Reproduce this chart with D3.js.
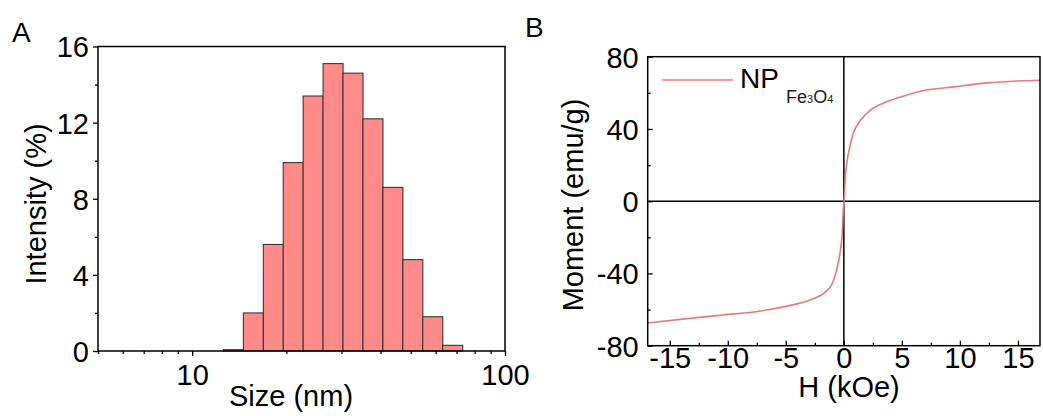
<!DOCTYPE html>
<html>
<head>
<meta charset="utf-8">
<script src="https://cdn.jsdelivr.net/npm/d3@7"></script>
<style>
  body { margin: 0; background: #fff; }
  svg { display: block; font-family: "Liberation Sans", Arial, sans-serif; }
  .domain { display: none; }
</style>
</head>
<body>
<div id="chart"></div>
<script>
// panel A: DLS size distribution
var sizes = [13.54, 15.69, 18.17, 21.04, 24.36, 28.21, 32.67, 37.84, 43.82, 50.75, 58.77, 68.06];
var intensity = [0.07, 2.0, 5.6, 9.9, 13.4, 15.1, 14.6, 12.2, 8.6, 4.8, 1.8, 0.3];
var sizeTicks = [10, 100];
var sizeMinor = [5, 6, 7, 8, 9, 20, 30, 40, 50, 60, 70, 80, 90];
var intTicks = [0, 4, 8, 12, 16];
var intMinor = [2, 6, 10, 14];

// panel B: M-H curve
var field = [-16.9, -13.5, -10.6, -7.75, -4.87, -3.73, -2.58, -1.57, -1.0, -0.63, -0.34, -0.14, -0.06, 0.02, 0.15, 0.29, 0.58, 0.86, 1.44, 2.3, 3.44, 4.88, 6.6, 9.47, 12.3, 16.9];
var moment = [-67.4, -65.0, -63.1, -61.3, -58.1, -56.3, -53.9, -50.2, -45.6, -38.2, -29.0, -17.9, -6.0, 0.5, 15.3, 22.7, 31.9, 38.4, 44.8, 50.4, 54.4, 57.7, 60.9, 63.3, 65.5, 67.0];
var hTicks = [-15, -10, -5, 0, 5, 10, 15];
var hMinor = [-12.5, -7.5, -2.5, 2.5, 7.5, 12.5];
var mTicks = [-80, -40, 0, 40, 80];
var mMinor = [-60, -20, 20, 60];

var FS = 29;
var barFill = "#fe8a8a",
    curveColor = "#e47a7a";

var svg = d3.select("#chart").append("svg")
    .attr("width", 1043)
    .attr("height", 416);

function label(text, x, y, size, rotate, anchor) {
    return svg.append("text")
        .attr("transform", "translate(" + x + "," + y + ")" + (rotate ? " rotate(-90)" : ""))
        .attr("text-anchor", anchor || "middle")
        .style("font-size", size + "px")
        .text(text);
}

function frame(x0, x1, y0, y1) {
    svg.append("rect")
        .attr("x", x0).attr("y", y1)
        .attr("width", x1 - x0).attr("height", y0 - y1)
        .attr("fill", "none")
        .attr("stroke", "#000")
        .attr("stroke-width", 1.5);
}

//---------------- panel A ----------------
var xA = d3.scaleLog().domain([5, 100]).range([98, 505]);
var yA = d3.scaleLinear().domain([0, 16]).range([351, 46.5]);

var ratio = sizes[1] / sizes[0];

svg.append("g").selectAll("rect")
    .data(sizes)
    .enter()
    .append("rect")
    .attr("x", function (d) { return xA(d / Math.sqrt(ratio)); })
    .attr("width", function (d) { return xA(d * Math.sqrt(ratio)) - xA(d / Math.sqrt(ratio)); })
    .attr("y", function (d, i) { return yA(intensity[i]); })
    .attr("height", function (d, i) { return yA(0) - yA(intensity[i]); })
    .attr("fill", barFill)
    .attr("stroke", "#2a2a2a")
    .attr("stroke-width", 1);

// x axis (outward ticks)
var gxA = svg.append("g")
    .attr("transform", "translate(0," + yA(0) + ")")
    .call(d3.axisBottom(xA).tickValues(sizeTicks).tickSize(5).tickFormat(d3.format("d")));
svg.append("g")
    .attr("transform", "translate(0," + yA(0) + ")")
    .call(d3.axisBottom(xA).tickValues(sizeMinor).tickSize(3).tickFormat(""));
gxA.selectAll("text")
    .attr("y", 34).attr("dy", null)
    .style("font-size", FS + "px");

// y axis (outward ticks)
var gyA = svg.append("g")
    .attr("transform", "translate(" + xA(5) + ",0)")
    .call(d3.axisLeft(yA).tickValues(intTicks).tickSize(5));
svg.append("g")
    .attr("transform", "translate(" + xA(5) + ",0)")
    .call(d3.axisLeft(yA).tickValues(intMinor).tickSize(3).tickFormat(""));
gyA.selectAll("text")
    .attr("x", -9).attr("dy", "0.36em")
    .style("font-size", FS + "px");

svg.selectAll(".tick line").attr("stroke", "#000").attr("stroke-width", 1.3);
frame(xA(5), xA(100), yA(0), yA(16));

label("Size (nm)", 291, 406, FS);
label("Intensity (%)", 46, 204, FS, true);
label("A", 12, 42, 28, false, "start");

//---------------- panel B ----------------
var xB = d3.scaleLinear().domain([-16.9, 16.9]).range([647.7, 1040]);
var yB = d3.scaleLinear().domain([-80, 80]).range([345.7, 56.7]);

// zero lines
svg.append("line")
    .attr("x1", xB(0)).attr("x2", xB(0))
    .attr("y1", yB(80)).attr("y2", yB(-80))
    .attr("stroke", "#000").attr("stroke-width", 1.5);
svg.append("line")
    .attr("x1", xB(-16.9)).attr("x2", xB(16.9))
    .attr("y1", yB(0)).attr("y2", yB(0))
    .attr("stroke", "#000").attr("stroke-width", 1.5);

var line = d3.line()
    .x(function (d, i) { return xB(d); })
    .y(function (d, i) { return yB(moment[i]); })
    .curve(d3.curveMonotoneX);

svg.append("path")
    .datum(field)
    .attr("d", line)
    .attr("fill", "none")
    .attr("stroke", curveColor)
    .attr("stroke-width", 1.6);

// x axis (inward ticks)
var gxB = svg.append("g")
    .attr("transform", "translate(0," + yB(-80) + ")")
    .call(d3.axisBottom(xB).tickValues(hTicks).tickSize(-5).tickFormat(function (d) { return String(d); }));
svg.append("g")
    .attr("transform", "translate(0," + yB(-80) + ")")
    .call(d3.axisBottom(xB).tickValues(hMinor).tickSize(-3).tickFormat(""));
gxB.selectAll("text")
    .attr("y", 22).attr("dy", null)
    .style("font-size", FS + "px");

// y axis (inward ticks)
var gyB = svg.append("g")
    .attr("transform", "translate(" + xB(-16.9) + ",0)")
    .call(d3.axisLeft(yB).tickValues(mTicks).tickSize(-5).tickFormat(function (d) { return String(d); }));
svg.append("g")
    .attr("transform", "translate(" + xB(-16.9) + ",0)")
    .call(d3.axisLeft(yB).tickValues(mMinor).tickSize(-3).tickFormat(""));
gyB.selectAll("text")
    .attr("x", -9).attr("dy", "0.36em")
    .style("font-size", FS + "px");

svg.selectAll(".tick line").attr("stroke", "#000").attr("stroke-width", 1.3);
frame(xB(-16.9), xB(16.9), yB(-80), yB(80));

label("H (kOe)", 849, 397, FS);
label("Moment (emu/g)", 583, 205, FS, true);
label("B", 525, 37, 28, false, "start");

// legend
svg.append("line")
    .attr("x1", 662).attr("x2", 733)
    .attr("y1", 80).attr("y2", 80)
    .attr("stroke", curveColor).attr("stroke-width", 1.6);
label("NP", 740, 88, 28, false, "start");
var sub = svg.append("text")
    .attr("transform", "translate(786,103)")
    .style("font-size", "18px")
    .style("fill", "#222");
sub.append("tspan").text("Fe");
sub.append("tspan").style("font-size", "11px").text("3");
sub.append("tspan").text("O");
sub.append("tspan").style("font-size", "11px").text("4");
</script>
</body>
</html>
